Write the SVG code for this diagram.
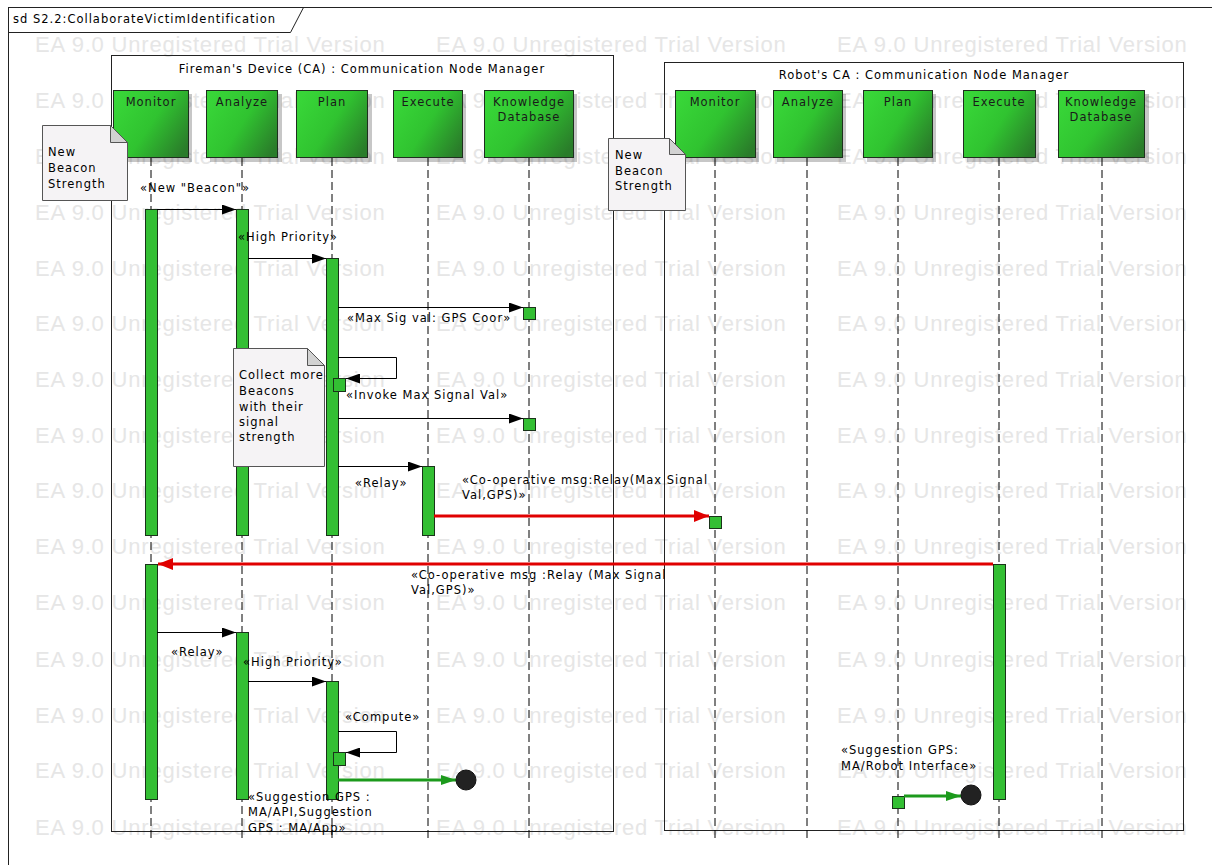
<svg xmlns="http://www.w3.org/2000/svg" width="1212" height="865" viewBox="0 0 1212 865">
<style>
text{font-family:"DejaVu Sans","Liberation Sans",sans-serif;font-size:11.5px;fill:#000;letter-spacing:1px}
.wm{font-family:"Liberation Sans",sans-serif;font-size:22px;fill:#e6e6e6;letter-spacing:0.8px}
.frame{fill:none;stroke:#222;stroke-width:1}
.box{fill:none;stroke:#222;stroke-width:1}
.head{fill:url(#hg);stroke:#1f2f1f;stroke-width:1}
.hshadow{fill:#000;opacity:0.22}
.life{stroke:#000;stroke-width:1;stroke-dasharray:8 4;fill:none}
.act{fill:#33bf33;stroke:#1a331a;stroke-width:1}
.note{fill:#f5f3f5;stroke:#555;stroke-width:1}
.fold{fill:#d2d2d2;stroke:#555;stroke-width:1}
.msg{stroke:#000;stroke-width:1;fill:none;marker-end:url(#ab)}
.red{stroke:#e00000;stroke-width:3;fill:none;marker-end:url(#ar)}
.grn{stroke:#1c9a1c;stroke-width:3;fill:none;marker-end:url(#ag)}
.end{fill:#222;stroke:#111}
.ht{text-anchor:middle;fill:#1a1a1a}
</style>
<defs>
<linearGradient id="hg" x1="0" y1="0.2" x2="1" y2="0.8">
<stop offset="0" stop-color="#38d638"/>
<stop offset="0.5" stop-color="#30c330"/>
<stop offset="1" stop-color="#2a7c2a"/>
</linearGradient>
<marker id="ab" markerUnits="userSpaceOnUse" markerWidth="14" markerHeight="10" refX="14" refY="5" orient="auto"><path d="M0,0 L14,5 L0,10 Z" fill="#000"/></marker>
<marker id="ar" markerUnits="userSpaceOnUse" markerWidth="16" markerHeight="12" refX="15" refY="6" orient="auto"><path d="M0,0 L15,6 L0,12 Z" fill="#e00000"/></marker>
<marker id="ag" markerUnits="userSpaceOnUse" markerWidth="16" markerHeight="12" refX="15" refY="6" orient="auto"><path d="M0,1 L15,6 L0,11 Z" fill="#1c9a1c"/></marker>
</defs>
<rect width="1212" height="865" fill="#fff"/>
<g id="watermark">
<text class="wm" x="35" y="52">EA 9.0 Unregistered Trial Version</text><text class="wm" x="436" y="52">EA 9.0 Unregistered Trial Version</text><text class="wm" x="837" y="52">EA 9.0 Unregistered Trial Version</text>
<text class="wm" x="35" y="108">EA 9.0 Unregistered Trial Version</text><text class="wm" x="436" y="108">EA 9.0 Unregistered Trial Version</text><text class="wm" x="837" y="108">EA 9.0 Unregistered Trial Version</text>
<text class="wm" x="35" y="164">EA 9.0 Unregistered Trial Version</text><text class="wm" x="436" y="164">EA 9.0 Unregistered Trial Version</text><text class="wm" x="837" y="164">EA 9.0 Unregistered Trial Version</text>
<text class="wm" x="35" y="220">EA 9.0 Unregistered Trial Version</text><text class="wm" x="436" y="220">EA 9.0 Unregistered Trial Version</text><text class="wm" x="837" y="220">EA 9.0 Unregistered Trial Version</text>
<text class="wm" x="35" y="276">EA 9.0 Unregistered Trial Version</text><text class="wm" x="436" y="276">EA 9.0 Unregistered Trial Version</text><text class="wm" x="837" y="276">EA 9.0 Unregistered Trial Version</text>
<text class="wm" x="35" y="331">EA 9.0 Unregistered Trial Version</text><text class="wm" x="436" y="331">EA 9.0 Unregistered Trial Version</text><text class="wm" x="837" y="331">EA 9.0 Unregistered Trial Version</text>
<text class="wm" x="35" y="387">EA 9.0 Unregistered Trial Version</text><text class="wm" x="436" y="387">EA 9.0 Unregistered Trial Version</text><text class="wm" x="837" y="387">EA 9.0 Unregistered Trial Version</text>
<text class="wm" x="35" y="443">EA 9.0 Unregistered Trial Version</text><text class="wm" x="436" y="443">EA 9.0 Unregistered Trial Version</text><text class="wm" x="837" y="443">EA 9.0 Unregistered Trial Version</text>
<text class="wm" x="35" y="498">EA 9.0 Unregistered Trial Version</text><text class="wm" x="436" y="498">EA 9.0 Unregistered Trial Version</text><text class="wm" x="837" y="498">EA 9.0 Unregistered Trial Version</text>
<text class="wm" x="35" y="554">EA 9.0 Unregistered Trial Version</text><text class="wm" x="436" y="554">EA 9.0 Unregistered Trial Version</text><text class="wm" x="837" y="554">EA 9.0 Unregistered Trial Version</text>
<text class="wm" x="35" y="610">EA 9.0 Unregistered Trial Version</text><text class="wm" x="436" y="610">EA 9.0 Unregistered Trial Version</text><text class="wm" x="837" y="610">EA 9.0 Unregistered Trial Version</text>
<text class="wm" x="35" y="667">EA 9.0 Unregistered Trial Version</text><text class="wm" x="436" y="667">EA 9.0 Unregistered Trial Version</text><text class="wm" x="837" y="667">EA 9.0 Unregistered Trial Version</text>
<text class="wm" x="35" y="723">EA 9.0 Unregistered Trial Version</text><text class="wm" x="436" y="723">EA 9.0 Unregistered Trial Version</text><text class="wm" x="837" y="723">EA 9.0 Unregistered Trial Version</text>
<text class="wm" x="35" y="778">EA 9.0 Unregistered Trial Version</text><text class="wm" x="436" y="778">EA 9.0 Unregistered Trial Version</text><text class="wm" x="837" y="778">EA 9.0 Unregistered Trial Version</text>
<text class="wm" x="35" y="835">EA 9.0 Unregistered Trial Version</text><text class="wm" x="436" y="835">EA 9.0 Unregistered Trial Version</text><text class="wm" x="837" y="835">EA 9.0 Unregistered Trial Version</text>
</g>
<g id="frame">
<rect class="frame" x="8.5" y="7.5" width="1215" height="870"/>
<path class="frame" d="M8.5,32.5 H290.5 L303.5,7.5"/>
<text x="13" y="23">sd S2.2:CollaborateVictimIdentification</text>
</g>
<g id="fireman-ca">
<rect class="box" x="111.5" y="55.5" width="502" height="776"/>
<text x="362" y="73" text-anchor="middle">Fireman's Device (CA) : Communication Node Manager</text>
</g>
<g id="robot-ca">
<rect class="box" x="664.5" y="62.5" width="519" height="768"/>
<text x="924" y="79" text-anchor="middle">Robot's CA : Communication Node Manager</text>
</g>
<g id="f-monitor">
<line class="life" x1="151" y1="158" x2="151" y2="838"/>
<rect class="hshadow" x="117" y="94" width="75" height="68"/>
<rect class="head" x="113.5" y="90.5" width="75" height="67"/>
<text class="ht" x="151" y="106">Monitor</text>
</g>
<g id="f-analyze">
<line class="life" x1="242" y1="158" x2="242" y2="838"/>
<rect class="hshadow" x="210" y="94" width="72" height="68"/>
<rect class="head" x="206.5" y="90.5" width="71" height="67"/>
<text class="ht" x="242" y="106">Analyze</text>
</g>
<g id="f-plan">
<line class="life" x1="332" y1="158" x2="332" y2="838"/>
<rect class="hshadow" x="300" y="94" width="72" height="68"/>
<rect class="head" x="296.5" y="90.5" width="71" height="67"/>
<text class="ht" x="332" y="106">Plan</text>
</g>
<g id="f-execute">
<line class="life" x1="428" y1="158" x2="428" y2="838"/>
<rect class="hshadow" x="397" y="94" width="69" height="68"/>
<rect class="head" x="393.5" y="90.5" width="69" height="67"/>
<text class="ht" x="428" y="106">Execute</text>
</g>
<g id="f-kd">
<line class="life" x1="529" y1="158" x2="529" y2="838"/>
<rect class="hshadow" x="488" y="94" width="89" height="68"/>
<rect class="head" x="484.5" y="90.5" width="89" height="67"/>
<text class="ht" x="529" y="106">Knowledge</text>
<text class="ht" x="529" y="121">Database</text>
</g>
<g id="r-monitor">
<line class="life" x1="715" y1="158" x2="715" y2="838"/>
<rect class="hshadow" x="679" y="94" width="80" height="68"/>
<rect class="head" x="675.5" y="90.5" width="80" height="67"/>
<text class="ht" x="715" y="106">Monitor</text>
</g>
<g id="r-analyze">
<line class="life" x1="807" y1="158" x2="807" y2="838"/>
<rect class="hshadow" x="777" y="94" width="69" height="68"/>
<rect class="head" x="773.5" y="90.5" width="69" height="67"/>
<text class="ht" x="808" y="106">Analyze</text>
</g>
<g id="r-plan">
<line class="life" x1="898" y1="158" x2="898" y2="838"/>
<rect class="hshadow" x="867" y="94" width="69" height="68"/>
<rect class="head" x="863.5" y="90.5" width="69" height="67"/>
<text class="ht" x="898" y="106">Plan</text>
</g>
<g id="r-execute">
<line class="life" x1="999" y1="158" x2="999" y2="838"/>
<rect class="hshadow" x="967" y="94" width="72" height="68"/>
<rect class="head" x="963.5" y="90.5" width="72" height="67"/>
<text class="ht" x="999" y="106">Execute</text>
</g>
<g id="r-kd">
<line class="life" x1="1102" y1="158" x2="1102" y2="838"/>
<rect class="hshadow" x="1062" y="94" width="87" height="68"/>
<rect class="head" x="1058.5" y="90.5" width="86" height="67"/>
<text class="ht" x="1101" y="106">Knowledge</text>
<text class="ht" x="1101" y="121">Database</text>
</g>
<g id="activations">
<rect class="act" x="145.5" y="209.5" width="12" height="326"/>
<rect class="act" x="236.5" y="209.5" width="12" height="326"/>
<rect class="act" x="326.5" y="258.5" width="12" height="277"/>
<rect class="act" x="523.5" y="307.5" width="12" height="12"/>
<rect class="act" x="333.5" y="378.5" width="12" height="13"/>
<rect class="act" x="523.5" y="418.5" width="12" height="12"/>
<rect class="act" x="422.5" y="466.5" width="12" height="69"/>
<rect class="act" x="709.5" y="516.5" width="12" height="12"/>
<rect class="act" x="993.5" y="564.5" width="12" height="235"/>
<rect class="act" x="145.5" y="564.5" width="12" height="235"/>
<rect class="act" x="236.5" y="632.5" width="12" height="167"/>
<rect class="act" x="326.5" y="681.5" width="12" height="118"/>
<rect class="act" x="333.5" y="752.5" width="12" height="13"/>
<rect class="act" x="892.5" y="796.5" width="12" height="12"/>
</g>
<g id="note-fireman">
<path class="note" d="M42.5,125.5 H110.5 L127.5,142.5 V200.5 H42.5 Z"/>
<path class="fold" d="M110.5,125.5 V142.5 H127.5 Z"/>
<text x="48" y="156">New</text>
<text x="48" y="172">Beacon</text>
<text x="48" y="188">Strength</text>
</g>
<g id="note-robot">
<path class="note" d="M608.5,138.5 H669.5 L685.5,154.5 V210.5 H608.5 Z"/>
<path class="fold" d="M669.5,138.5 V154.5 H685.5 Z"/>
<text x="615" y="159">New</text>
<text x="615" y="175">Beacon</text>
<text x="615" y="190">Strength</text>
</g>
<g id="note-collect">
<path class="note" d="M233.5,348.5 H307.5 L324.5,365.5 V466.5 H233.5 Z"/>
<path class="fold" d="M307.5,348.5 V365.5 H324.5 Z"/>
<text x="239" y="379">Collect more</text>
<text x="239" y="395">Beacons</text>
<text x="239" y="411">with their</text>
<text x="239" y="426">signal</text>
<text x="239" y="441">strength</text>
</g>
<g id="connectors">
<line class="msg" x1="157" y1="209.5" x2="236" y2="209.5"/>
<line class="msg" x1="248" y1="258.5" x2="326" y2="258.5"/>
<line class="msg" x1="338" y1="307.5" x2="523" y2="307.5"/>
<path class="msg" d="M338,357.5 H396.5 V378.5 H346"/>
<line class="msg" x1="338" y1="418.5" x2="523" y2="418.5"/>
<line class="msg" x1="338" y1="466.5" x2="422" y2="466.5"/>
<line class="red" x1="434" y1="516" x2="709" y2="516"/>
<line class="red" x1="993" y1="564" x2="158" y2="564"/>
<line class="msg" x1="157" y1="632.5" x2="236" y2="632.5"/>
<line class="msg" x1="248" y1="681.5" x2="326" y2="681.5"/>
<path class="msg" d="M338,731.5 H396.5 V752.5 H346"/>
<line class="grn" x1="338" y1="780" x2="456" y2="780"/>
<circle class="end" cx="466" cy="780" r="10"/>
<line class="grn" x1="904" y1="796" x2="961" y2="796"/>
<circle class="end" cx="971" cy="795" r="10"/>
</g>
<g id="labels">
<text x="140" y="192">«New "Beacon"»</text>
<text x="238" y="241">«High Priority»</text>
<text x="347" y="322">«Max Sig val: GPS Coor»</text>
<text x="346" y="399">«Invoke Max Signal Val»</text>
<text x="355" y="487">«Relay»</text>
<text x="462" y="484">«Co-operative msg:Relay(Max Signal</text>
<text x="462" y="499">Val,GPS)»</text>
<text x="411" y="579">«Co-operative msg :Relay (Max Signal</text>
<text x="411" y="594">Val,GPS)»</text>
<text x="171" y="656">«Relay»</text>
<text x="243" y="666">«High Priority»</text>
<text x="345" y="721">«Compute»</text>
<text x="248" y="801">«Suggestion GPS :</text>
<text x="248" y="816">MA/API,Suggestion</text>
<text x="248" y="832">GPS : MA/App»</text>
<text x="841" y="754">«Suggestion GPS:</text>
<text x="841" y="770">MA/Robot Interface»</text>
</g>
</svg>
